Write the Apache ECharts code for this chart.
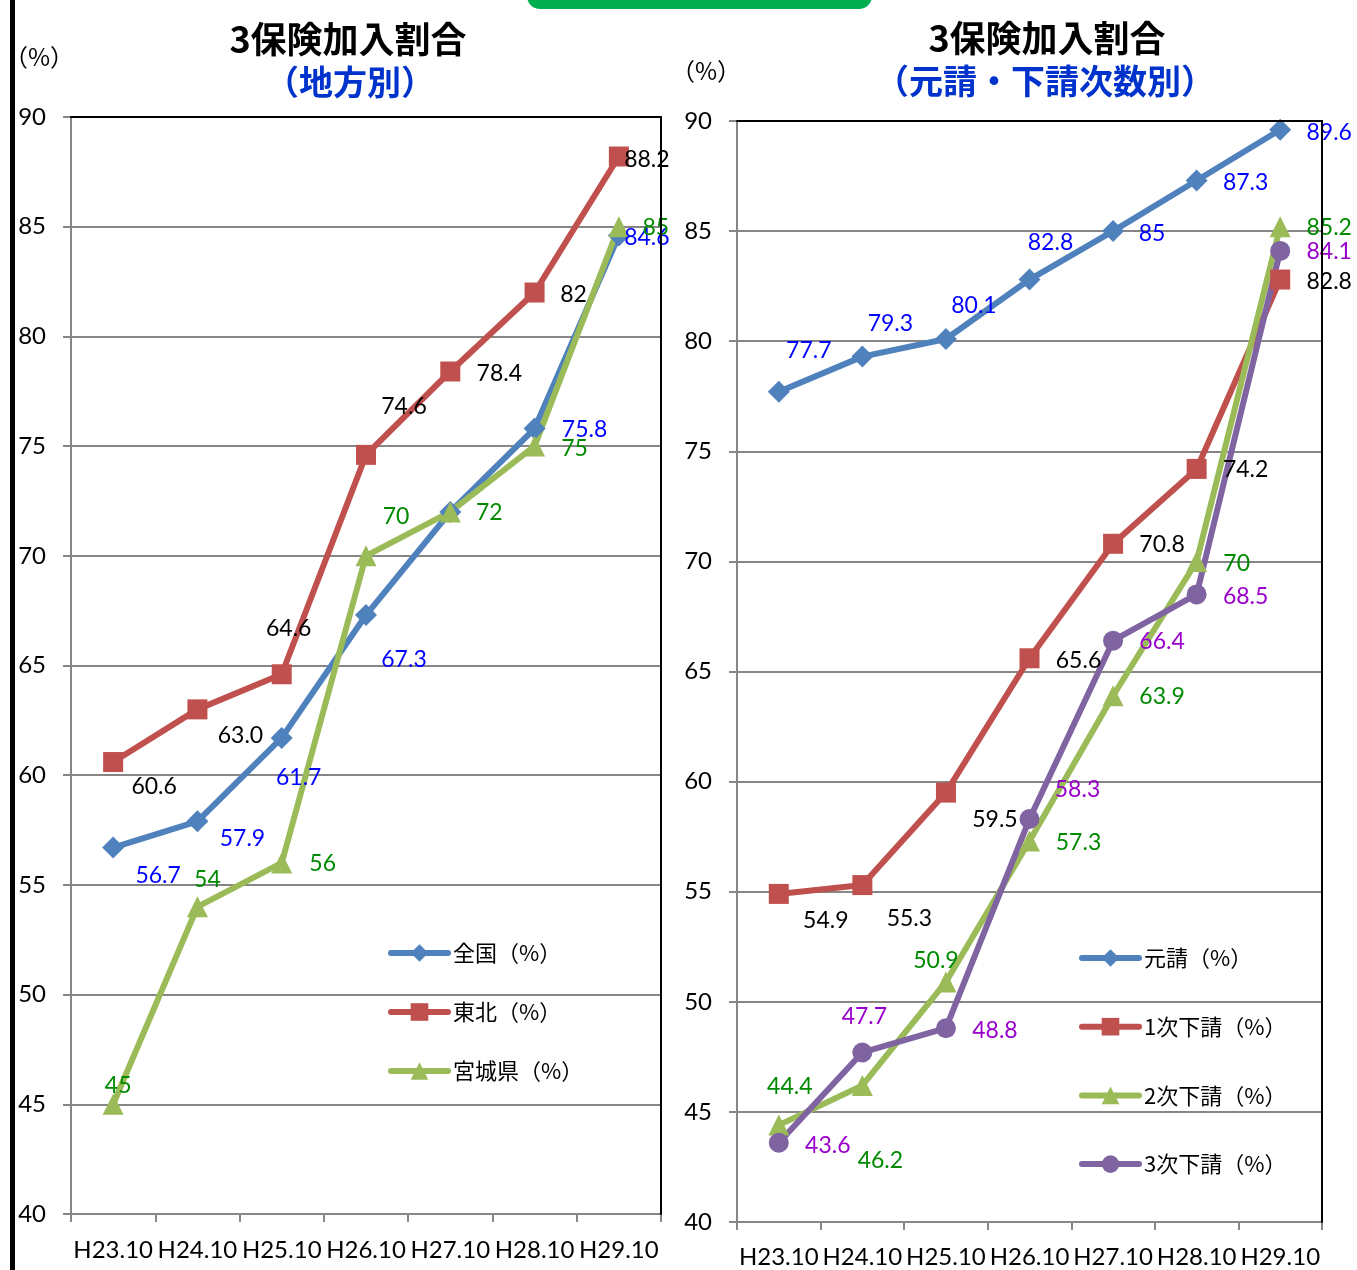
<!DOCTYPE html>
<html>
<head>
<meta charset="utf-8">
<script src="https://cdn.jsdelivr.net/npm/echarts@6/dist/echarts.min.js"></script>
<style>
  html, body { margin: 0; padding: 0; background: #fff; }
  #chart { width: 1357px; height: 1270px; }
</style>
</head>
<body>
<div id="chart"></div>
<script>
// Survey dates (x-axis categories)
const categories = ['H23.10', 'H24.10', 'H25.10', 'H26.10', 'H27.10', 'H28.10', 'H29.10'];

// Left panel: enrolment rate by region (%)
const nationwide = ['56.7', '57.9', '61.7', '67.3', '72', '75.8', '84.6'];
const tohoku     = ['60.6', '63.0', '64.6', '74.6', '78.4', '82', '88.2'];
const miyagi     = ['45', '54', '56', '70', '72', '75', '85'];

// Right panel: enrolment rate by contractor tier (%)
const prime = ['77.7', '79.3', '80.1', '82.8', '85', '87.3', '89.6'];
const sub1  = ['54.9', '55.3', '59.5', '65.6', '70.8', '74.2', '82.8'];
const sub2  = ['44.4', '46.2', '50.9', '57.3', '63.9', '70', '85.2'];
const sub3  = ['43.6', '47.7', '48.8', '58.3', '66.4', '68.5', '84.1'];

// Value axis range
const yMin = 40, yMax = 90, yStep = 5;

// Where each value label sits relative to its point (null = no label)
const nationwideLabelShift = [[45, 28], [45, 17], [17, 40], [38, 45], null, [50, 1], [28, 2]];
const tohokuLabelShift     = [[41, 25], [43, 26], [7, -46], [38, -48], [49, 2], [39, 2], [28, 3]];
const miyagiLabelShift     = [[5, -19], [10, -27], [41, 1], [30, -39], [39, 1], [40, 2], [37, 1]];
const primeLabelShift      = [[30, -41], [28, -33], [28, -33], [21, -37], [39, 2], [49, 2], [49, 3]];
const sub1LabelShift       = [[47, 27], [47, 33], [49, 27], [49, 2], [49, 1], [49, 1], [49, 2]];
const sub2LabelShift       = [[11, -39], [18, 75], [-10, -21], [49, 2], [49, 1], [40, 2], [49, 1]];
const sub3LabelShift       = [[49, 3], [2, -36], [49, 2], [48, -29], [49, 1], [49, 2], [49, 1]];

const NUM_FONT = 'Lato, "Liberation Sans", sans-serif';
const JP_FONT = '"Noto Sans CJK JP", sans-serif';
const GRID_GRAY = '#868686';

function lineSeries(name, panel, values, shifts, symbol, size, color, labelColor) {
  return {
    type: 'line',
    name: name,
    xAxisIndex: panel * 2,
    yAxisIndex: panel * 2,
    symbol: symbol,
    symbolSize: size,
    lineStyle: { width: 6, color: color, cap: 'round', join: 'round' },
    itemStyle: { color: color },
    z: 3,
    label: {
      show: true,
      position: 'inside',
      color: labelColor,
      fontFamily: NUM_FONT,
      fontSize: 23,
      align: 'center',
      verticalAlign: 'middle'
    },
    data: values.map(function (v, i) {
      const s = shifts[i];
      return {
        value: Number(v),
        label: s ? { offset: s, formatter: v } : { show: false }
      };
    })
  };
}

function bottomAxis(grid, gap) {
  return {
    gridIndex: grid,
    type: 'category',
    data: categories,
    boundaryGap: true,
    axisLine: { lineStyle: { color: GRID_GRAY, width: 2 } },
    axisTick: { show: true, length: 8, lineStyle: { color: GRID_GRAY, width: 2 } },
    axisLabel: { interval: 0, color: '#000', fontFamily: NUM_FONT, fontSize: 24, margin: gap }
  };
}
function topFrame(grid) {
  return {
    gridIndex: grid,
    type: 'category',
    data: categories,
    position: 'top',
    z: 5,
    axisLine: { lineStyle: { color: '#000', width: 2 } },
    axisTick: { show: false },
    axisLabel: { show: false },
    splitLine: { show: false }
  };
}
function leftAxis(grid) {
  return {
    gridIndex: grid,
    type: 'value',
    min: yMin, max: yMax, interval: yStep,
    axisLine: { show: true, lineStyle: { color: GRID_GRAY, width: 2 } },
    axisTick: { show: true, length: 8, lineStyle: { color: GRID_GRAY, width: 2 } },
    axisLabel: { color: '#000', fontFamily: NUM_FONT, fontSize: 24, margin: 25 },
    splitLine: { show: true, lineStyle: { color: GRID_GRAY, width: 2 } }
  };
}
function rightFrame(grid) {
  return {
    gridIndex: grid,
    type: 'value',
    min: yMin, max: yMax, interval: yStep,
    position: 'right',
    z: 5,
    axisLine: { show: true, lineStyle: { color: '#000', width: 2 } },
    axisTick: { show: false },
    axisLabel: { show: false },
    splitLine: { show: false }
  };
}

const legendBase = {
  orient: 'vertical',
  padding: 0,
  itemWidth: 57,
  itemHeight: 22,
  lineStyle: { width: 6, cap: 'round' },
  textStyle: { fontFamily: JP_FONT, fontSize: 22, color: '#000' }
};

const chart = echarts.init(document.getElementById('chart'), null, { renderer: 'canvas' });

chart.setOption({
  animation: false,
  backgroundColor: '#fff',
  grid: [
    { left: 71, top: 117, width: 590, height: 1097 },
    { left: 737, top: 121, width: 585, height: 1101 }
  ],
  xAxis: [bottomAxis(0, 24), topFrame(0), bottomAxis(1, 23), topFrame(1)],
  yAxis: [leftAxis(0), rightFrame(0), leftAxis(1), rightFrame(1)],
  legend: [
    Object.assign({}, legendBase, {
      data: ['全国（%）', '東北（%）', '宮城県（%）'],
      left: 388, top: 942, itemGap: 37
    }),
    Object.assign({}, legendBase, {
      data: ['元請（%）', '1次下請（%）', '2次下請（%）', '3次下請（%）'],
      left: 1079, top: 947, itemGap: 46.7
    })
  ],
  graphic: [
    { type: 'rect', shape: { x: 10, y: 0, width: 5, height: 1270 }, style: { fill: '#000' } },
    { type: 'rect', shape: { x: 527, y: -20, width: 345, height: 29, r: [0, 0, 13, 13] }, style: { fill: '#00B050' } },
    { type: 'text', x: 348, y: 39, style: { text: '3保険加入割合', font: 'bold 36px "Noto Sans CJK JP"', fill: '#000', align: 'center', verticalAlign: 'middle' } },
    { type: 'text', x: 350, y: 82, style: { text: '（地方別）', font: 'bold 34px "Noto Sans CJK JP"', fill: '#0033CC', align: 'center', verticalAlign: 'middle' } },
    { type: 'text', x: 1047, y: 38, style: { text: '3保険加入割合', font: 'bold 36px "Noto Sans CJK JP"', fill: '#000', align: 'center', verticalAlign: 'middle' } },
    { type: 'text', x: 1045, y: 81, style: { text: '（元請・下請次数別）', font: 'bold 34px "Noto Sans CJK JP"', fill: '#0033CC', align: 'center', verticalAlign: 'middle' } },
    { type: 'text', x: 4, y: 57, style: { text: '（%）', font: '24px "Noto Sans CJK JP"', fill: '#000', align: 'left', verticalAlign: 'middle' } },
    { type: 'text', x: 671, y: 71, style: { text: '（%）', font: '24px "Noto Sans CJK JP"', fill: '#000', align: 'left', verticalAlign: 'middle' } }
  ],
  series: [
    lineSeries('全国（%）', 0, nationwide, nationwideLabelShift, 'diamond', 22, '#4F81BD', '#0000FF'),
    lineSeries('東北（%）', 0, tohoku, tohokuLabelShift, 'rect', 20, '#C0504D', '#000000'),
    lineSeries('宮城県（%）', 0, miyagi, miyagiLabelShift, 'triangle', 21, '#9BBB59', '#008A00'),
    lineSeries('元請（%）', 1, prime, primeLabelShift, 'diamond', 22, '#4F81BD', '#0000FF'),
    lineSeries('1次下請（%）', 1, sub1, sub1LabelShift, 'rect', 20, '#C0504D', '#000000'),
    lineSeries('2次下請（%）', 1, sub2, sub2LabelShift, 'triangle', 21, '#9BBB59', '#008A00'),
    lineSeries('3次下請（%）', 1, sub3, sub3LabelShift, 'circle', 20, '#8064A2', '#9900CC')
  ]
});
</script>
</body>
</html>
